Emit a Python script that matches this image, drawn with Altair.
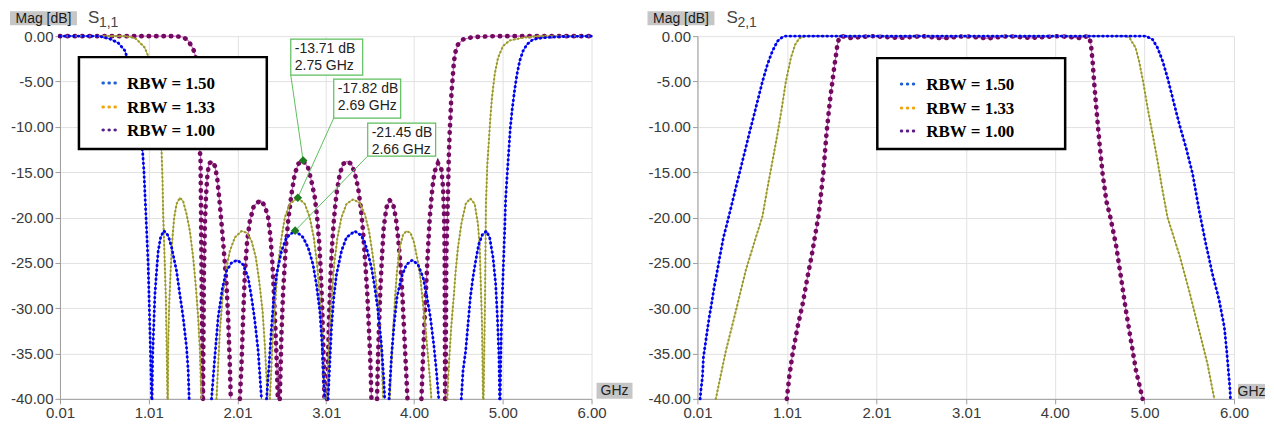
import altair as alt
import pandas as pd

SANS = "Liberation Sans"
SERIF = "Liberation Serif"

# ---------------- data ----------------
FREQ_TICKS = [0.01, 1.01, 2.01, 3.01, 4.00, 5.00, 6.00]
DB_TICKS = [-40, -35, -30, -25, -20, -15, -10, -5, 0]
SERIES = ["RBW = 1.50", "RBW = 1.33", "RBW = 1.00"]

# S1,1 curves : lists of segments (each segment = list of (GHz, dB))
S11_BLUE = [
    [(0.01, 0.0), (0.45, 0.0), (0.573, -0.3), (0.667, -0.75), (0.742, -1.6), (0.761, -2.2), (0.941, -12.7),
     (0.956, -14.9), (0.978, -19.6), (1.004, -25.2), (1.023, -32.1), (1.043, -40.0)],
    [(1.048, -40.0), (1.054, -35.4), (1.08, -28.5), (1.099, -25.9), (1.117, -23.7), (1.144, -22.2), (1.18, -21.45),
     (1.23, -22.0), (1.268, -23.3), (1.324, -25.9), (1.361, -28.5), (1.398, -31.0), (1.436, -34.3), (1.455, -36.9),
     (1.466, -40.0)],
    [(1.718, -40.0), (1.755, -35.4), (1.793, -31.0), (1.842, -27.7), (1.887, -25.9), (1.943, -25.0), (2.007, -24.7),
     (2.074, -25.2), (2.13, -26.6), (2.169, -28.8), (2.206, -31.4), (2.243, -34.7), (2.281, -40.0)],
    [(2.338, -40.0), (2.367, -36.2), (2.394, -32.1), (2.42, -28.8), (2.45, -26.3), (2.507, -23.7), (2.563, -22.2),
     (2.66, -21.45), (2.75, -22.2), (2.806, -23.3), (2.862, -25.2), (2.9, -27.4), (2.938, -30.3), (2.964, -34.0),
     (2.983, -38.4), (2.994, -40.0)],
    [(3.031, -40.0), (3.05, -36.2), (3.07, -32.1), (3.096, -28.8), (3.126, -26.3), (3.182, -23.7), (3.239, -22.2),
     (3.332, -21.5), (3.407, -22.0), (3.463, -23.3), (3.52, -25.5), (3.557, -27.7), (3.594, -30.3), (3.632, -34.0),
     (3.658, -37.7), (3.67, -40.0)],
    [(3.718, -40.0), (3.745, -35.4), (3.775, -31.8), (3.808, -28.8), (3.857, -26.6), (3.914, -25.2), (3.98, -24.7),
     (4.045, -25.2), (4.101, -26.6), (4.146, -28.8), (4.184, -31.0), (4.222, -34.0), (4.252, -36.9), (4.278, -40.0)],
    [(4.533, -40.0), (4.552, -36.9), (4.582, -34.7), (4.608, -31.8), (4.635, -28.8), (4.664, -26.6), (4.694, -24.8),
     (4.728, -23.0), (4.77, -21.9), (4.815, -21.5), (4.852, -22.2), (4.89, -24.4), (4.92, -27.4), (4.939, -31.0),
     (4.957, -35.4), (4.965, -40.0)],
    [(4.97, -40.0), (4.976, -36.2), (4.984, -32.1), (4.995, -28.5), (5.01, -24.4), (5.021, -21.5), (5.032, -18.0),
     (5.052, -14.9), (5.07, -12.3), (5.085, -10.1), (5.108, -7.9), (5.134, -5.9), (5.16, -4.2), (5.19, -2.75),
     (5.227, -1.65), (5.272, -0.92), (5.34, -0.36), (5.452, -0.18), (5.64, -0.05), (6.0, 0.0)],
]

S11_OLIVE = [
    [(0.01, 0.0), (0.75, 0.0), (0.835, -0.18), (0.873, -0.33), (0.911, -0.73), (0.948, -1.07), (0.967, -1.3),
     (1.004, -2.2), (1.155, -12.7), (1.166, -16.0), (1.173, -19.6), (1.203, -28.8), (1.222, -40.0)],
    [(1.225, -40.0), (1.23, -34.0), (1.241, -29.6), (1.257, -25.9), (1.275, -22.6), (1.297, -20.0), (1.324, -18.5),
     (1.361, -17.82), (1.398, -18.2), (1.436, -19.6), (1.474, -21.5), (1.511, -24.4), (1.542, -27.7), (1.567, -31.0),
     (1.587, -34.7), (1.598, -38.4), (1.605, -40.0)],
    [(1.774, -40.0), (1.793, -36.2), (1.812, -32.5), (1.842, -28.8), (1.879, -25.9), (1.924, -23.7), (1.981, -22.2),
     (2.056, -21.5), (2.119, -21.7), (2.169, -22.6), (2.217, -24.4), (2.255, -27.0), (2.293, -30.3), (2.318, -34.0),
     (2.338, -37.7), (2.349, -40.0)],
    [(2.375, -40.0), (2.394, -36.2), (2.412, -32.5), (2.439, -28.8), (2.468, -25.2), (2.507, -22.2), (2.544, -20.0),
     (2.6, -18.5), (2.69, -17.82), (2.769, -18.5), (2.825, -20.0), (2.87, -22.2), (2.908, -25.2), (2.938, -28.8),
     (2.96, -32.5), (2.975, -36.2), (2.99, -40.0)],
    [(3.02, -40.0), (3.036, -36.2), (3.05, -32.5), (3.073, -28.8), (3.099, -25.2), (3.137, -22.2), (3.182, -20.0),
     (3.239, -18.5), (3.313, -18.0), (3.388, -18.4), (3.444, -19.6), (3.493, -21.5), (3.538, -24.4), (3.576, -27.4),
     (3.606, -31.0), (3.632, -34.7), (3.651, -40.0)],
    [(3.726, -40.0), (3.745, -36.2), (3.764, -32.5), (3.786, -28.8), (3.808, -25.9), (3.839, -23.3), (3.876, -21.9),
     (3.914, -21.5), (3.959, -21.7), (3.996, -22.6), (4.034, -24.4), (4.071, -26.6), (4.101, -29.6), (4.132, -32.5),
     (4.158, -35.4), (4.184, -38.4), (4.195, -40.0)],
    [(4.375, -40.0), (4.383, -38.0), (4.402, -34.7), (4.421, -31.8), (4.447, -28.8), (4.469, -25.9), (4.495, -23.3),
     (4.533, -20.7), (4.582, -18.5), (4.635, -17.9), (4.683, -18.5), (4.72, -20.7), (4.74, -23.3), (4.751, -27.0),
     (4.766, -31.8), (4.777, -40.0)],
    [(4.783, -40.0), (4.80, -29.0), (4.81, -18.5), (4.826, -14.1), (4.841, -11.9), (4.86, -9.0), (4.878, -6.8),
     (4.909, -4.2), (4.946, -2.4), (5.002, -1.1), (5.078, -0.47), (5.227, -0.18), (5.4, 0.0), (6.0, 0.0)],
]

S11_PURPLE = [
    [(0.01, 0.0), (1.30, 0.0), (1.40, -0.1), (1.455, -0.5), (1.511, -1.4), (1.538, -2.2), (1.586, -12.7),
     (1.594, -13.4), (1.598, -17.8), (1.607, -28.0), (1.617, -40.0)],
    [(1.622, -40.0), (1.632, -26.3), (1.643, -20.7), (1.655, -17.8), (1.669, -15.6), (1.688, -14.1), (1.718, -13.8),
     (1.755, -14.3), (1.781, -15.6), (1.804, -17.8), (1.831, -20.7), (1.857, -23.7), (1.887, -27.4), (1.905, -31.0),
     (1.924, -36.2), (1.935, -40.0)],
    [(2.037, -40.0), (2.056, -36.2), (2.074, -31.0), (2.093, -26.3), (2.119, -22.6), (2.15, -20.4), (2.195, -18.7),
     (2.27, -18.1), (2.318, -18.7), (2.356, -20.0), (2.383, -22.2), (2.405, -25.2), (2.423, -28.8), (2.439, -32.5),
     (2.454, -36.2), (2.465, -40.0)],
    [(2.487, -40.0), (2.507, -32.5), (2.525, -28.1), (2.552, -23.7), (2.581, -20.4), (2.619, -17.4), (2.656, -15.2),
     (2.694, -14.1), (2.75, -13.71), (2.806, -14.5), (2.844, -16.0), (2.882, -17.8), (2.908, -20.0), (2.93, -22.6),
     (2.949, -25.9), (2.964, -29.6), (2.975, -33.2), (2.986, -37.7), (2.99, -40.0)],
    [(3.02, -40.0), (3.031, -35.4), (3.043, -31.0), (3.058, -26.6), (3.077, -23.0), (3.099, -20.0), (3.126, -17.4),
     (3.163, -15.2), (3.2, -14.1), (3.245, -13.8), (3.295, -14.1), (3.332, -15.1), (3.369, -16.7), (3.4, -18.9),
     (3.425, -21.5), (3.452, -25.2), (3.475, -28.8), (3.493, -32.5), (3.509, -36.2), (3.52, -40.0)],
    [(3.583, -40.0), (3.594, -35.4), (3.606, -31.8), (3.621, -27.7), (3.64, -24.1), (3.658, -21.1), (3.689, -18.9),
     (3.726, -18.1), (3.764, -18.5), (3.794, -20.0), (3.82, -22.2), (3.847, -25.2), (3.87, -28.8), (3.888, -32.5),
     (3.907, -36.2), (3.926, -40.0)],
    [(4.083, -40.0), (4.101, -35.4), (4.12, -31.0), (4.139, -27.0), (4.158, -23.3), (4.177, -20.0), (4.207, -16.7),
     (4.233, -14.9), (4.27, -14.0), (4.308, -14.7), (4.327, -16.7), (4.338, -19.6), (4.345, -24.0), (4.35, -40.0)],
    [(4.355, -40.0), (4.364, -24.1), (4.383, -17.1), (4.391, -13.4), (4.402, -10.5), (4.413, -8.3), (4.421, -6.4),
     (4.432, -5.0), (4.45, -2.75), (4.469, -1.65), (4.495, -0.92), (4.552, -0.36), (4.664, -0.1), (4.9, 0.0),
     (6.0, 0.0)],
]

# S2,1 curves
S21_BLUE = [[(0.04, -40.0), (0.048, -39.1), (0.066, -37.6), (0.077, -35.4), (0.093, -34.3), (0.115, -32.8),
             (0.141, -31.0), (0.166, -29.6), (0.196, -27.7), (0.227, -26.1), (0.264, -24.1), (0.3, -22.2),
             (0.35, -20.3), (0.439, -16.7), (0.512, -13.8), (0.587, -10.8), (0.662, -7.9), (0.736, -5.0),
             (0.792, -3.1), (0.847, -1.65), (0.903, -0.55), (0.959, -0.1), (0.99, 0.0), (5.017, 0.0),
             (5.091, -0.37), (5.147, -1.3), (5.203, -2.75), (5.258, -4.6), (5.314, -6.8), (5.389, -9.7),
             (5.464, -12.3), (5.538, -15.2), (5.612, -19.3), (5.687, -23.0), (5.761, -26.3), (5.836, -29.2),
             (5.892, -32.1), (5.918, -34.7), (5.937, -36.9), (5.956, -39.1), (5.96, -40.0)]]
S21_OLIVE = [[(0.215, -40.0), (0.327, -34.7), (0.439, -30.3), (0.55, -25.8), (0.643, -22.8), (0.735, -19.9),
              (0.792, -16.7), (0.847, -13.8), (0.903, -10.8), (0.952, -7.9), (0.997, -5.0), (1.053, -2.4),
              (1.101, -0.92), (1.146, -0.25), (1.21, 0.0), (4.78, 0.0), (4.828, -0.1), (4.902, -1.3),
              (4.94, -2.75), (4.985, -5.0), (5.035, -7.9), (5.091, -10.8), (5.147, -13.8), (5.196, -16.7),
              (5.258, -20.0), (5.389, -24.1), (5.5, -28.1), (5.612, -32.5), (5.705, -36.2), (5.78, -40.0)]]
S21_PURPLE = [[(1.008, -40.0), (1.034, -37.6), (1.071, -35.1), (1.127, -32.1), (1.183, -29.6), (1.238, -26.6),
               (1.287, -24.1), (1.332, -21.5), (1.365, -19.6), (1.414, -15.2), (1.45, -10.8), (1.488, -7.2),
               (1.536, -3.5), (1.573, -0.92), (1.592, -0.18), (1.62, 0.0), (1.72, -0.2), (1.95, 0.0),
               (2.27, -0.2), (2.52, 0.0), (2.75, -0.25), (2.99, 0.0), (3.25, -0.25), (3.48, 0.0), (3.73, -0.2),
               (4.05, 0.0), (4.27, -0.2), (4.37, 0.0), (4.384, -0.1), (4.403, -0.92), (4.421, -2.75),
               (4.44, -5.3), (4.466, -8.3), (4.496, -11.6), (4.533, -15.2), (4.575, -18.2), (4.62, -20.0),
               (4.682, -23.0), (4.738, -26.6), (4.794, -30.3), (4.85, -33.6), (4.906, -36.9), (4.98, -40.0)]]

# marker read-outs on S1,1
MARKER_F = [2.75, 2.69, 2.66]
MARKER_DB = [-13.71, -17.82, -21.45]

# ---------------- styling ----------------
LINE_COL = {"b": "#4a5cff", "o": "#b8b84a", "p": "#cf62c9"}
DOT_COL = {"b": "#0000ee", "o": "#999930", "p": "#730a60"}
DOT_W = {"b": 2.9, "o": 2.2, "p": 4.6}
DOT_DASH = {"b": [0.4, 4.2], "o": [0.4, 3.6], "p": [0.4, 7.0]}
LEGEND_DOT = ["#1f5fd6", "#f2a40a", "#5b1f8c"]

W_L, W_R, H = 532, 537, 363


def xenc():
    return alt.X("f:Q", scale=alt.Scale(domain=[0.01, 6.0], nice=False, zero=False),
                 axis=alt.Axis(values=FREQ_TICKS, labelExpr="format(datum.value,'.2f')", title=None,
                               labelFlush=False, grid=True))


def yenc():
    return alt.Y("db:Q", scale=alt.Scale(domain=[-40, 0], nice=False, zero=False),
                 axis=alt.Axis(values=DB_TICKS, title=None, grid=True,
                               labelExpr="replace(format(datum.value,'.2f'),'\u2212','-')"))


def to_df(segments):
    rows = []
    for s, seg in enumerate(segments):
        for i, (f, d) in enumerate(seg):
            rows.append({"f": f, "db": d, "seg": s, "idx": i})
    return pd.DataFrame(rows)


def curve(segments, key):
    base = alt.Chart(to_df(segments)).encode(x=xenc(), y=yenc(), detail="seg:N", order="idx:Q")
    line = base.mark_line(color=LINE_COL[key], strokeWidth=1.1)
    dots = base.mark_line(color=DOT_COL[key], strokeWidth=DOT_W[key], strokeDash=DOT_DASH[key],
                          strokeCap="round")
    return [line, dots]


def one():
    return pd.DataFrame({"a": [0]})


def txt(t, x, y, size=14, weight="normal", font=SANS, align="left", color="#222222"):
    return alt.Chart(pd.DataFrame({"t": [t]})).mark_text(
        align=align, baseline="middle", fontSize=size, fontWeight=weight, font=font, color=color
    ).encode(text="t:N", x=alt.value(x), y=alt.value(y))


def box(x, y, x2, y2, fill, stroke=None, sw=0):
    kw = dict(fill=fill, strokeWidth=sw)
    if stroke:
        kw["stroke"] = stroke
    return alt.Chart(one()).mark_rect(**kw).encode(
        x=alt.value(x), x2=alt.value(x2), y=alt.value(y), y2=alt.value(y2))


def legend(x0, y0, x1, y1, dotx, textx, rows):
    layers = [box(x0, y0, x1, y1, "white", "black", 2.5)]
    for lab, col, ry in zip(SERIES, LEGEND_DOT, rows):
        layers.append(alt.Chart(one()).mark_rule(color=col, strokeWidth=3, strokeDash=[0.5, 5.5],
                                                 strokeCap="round").encode(
            x=alt.value(dotx), x2=alt.value(dotx + 18), y=alt.value(ry)))
        layers.append(txt(lab, textx, ry + 1, size=17, weight="bold", font=SERIF, color="black"))
    return layers


def frame_labels(sub, sx):
    return [
        box(-50, -25, 17, -11, "#c6c6c6"),
        txt("Mag [dB]", -16.5, -17.5, size=14, align="center", color="#1a1a1a"),
        txt("S", sx, -18.5, size=17, color="#444444"),
        txt(sub, sx + 11, -13.5, size=14, color="#444444"),
    ]


# ---------------- left panel : S1,1 ----------------
left_layers = curve(S11_PURPLE, "p") + curve(S11_OLIVE, "o") + curve(S11_BLUE, "b")

mk = pd.DataFrame({"f": MARKER_F, "db": MARKER_DB})
corners = [(231, 39), (274, 82), (308, 120)]
ann_boxes = [(231, 3, 303, 39), (274, 43, 341, 82), (308, 87, 376, 120)]
for i, (cx, cy) in enumerate(corners):
    left_layers.append(alt.Chart(mk.iloc[[i]]).mark_rule(color="#5cbf5c", strokeWidth=1).encode(
        x=xenc(), y=yenc(), x2=alt.value(cx), y2=alt.value(cy)))
left_layers.append(alt.Chart(mk).mark_point(shape="diamond", filled=True, size=75, color="#1d7a1d",
                                            opacity=1).encode(x=xenc(), y=yenc()))
for i, (bx0, by0, bx1, by1) in enumerate(ann_boxes):
    left_layers.append(box(bx0, by0, bx1, by1, "white", "#5cbf5c", 1.2))
    left_layers.append(txt(f"{MARKER_DB[i]:.2f} dB", bx0 + 4, by0 + 10, size=14))
    left_layers.append(txt(f"{MARKER_F[i]:.2f} GHz", bx0 + 4, by0 + 27, size=14))

left_layers += legend(19, 21, 207, 113, 43, 67, [47, 71, 94])
left_layers += frame_labels("1,1", 28)
left_layers += [box(537, 347, 573, 363, "#c6c6c6"), txt("GHz", 555, 355.5, size=14, align="center")]

left = alt.layer(*left_layers).properties(width=W_L, height=H)

# ---------------- right panel : S2,1 ----------------
right_layers = curve(S21_PURPLE, "p") + curve(S21_OLIVE, "o") + curve(S21_BLUE, "b")
right_layers += legend(180, 22, 368, 113, 204, 229, [48, 72, 95])
right_layers += frame_labels("2,1", 29)
right_layers += [box(541, 348, 568, 363, "#c6c6c6"), txt("GHz", 554.5, 356, size=14, align="center")]

right = alt.layer(*right_layers).properties(width=W_R, height=H)

chart = alt.hconcat(left, right, spacing=15).properties(
    padding={"left": 2, "top": 0, "right": 0, "bottom": 0}
).configure_view(stroke=None).configure_axis(
    labelFont=SANS, labelFontSize=15, labelColor="#3a3a3a", gridColor="#e2e2e2", gridWidth=1,
    domainColor="#9d9d9d", tickColor="#9d9d9d", tickSize=5, labelPadding=2
)

chart.save("out.html", embed_options={"renderer": "svg", "actions": False})
